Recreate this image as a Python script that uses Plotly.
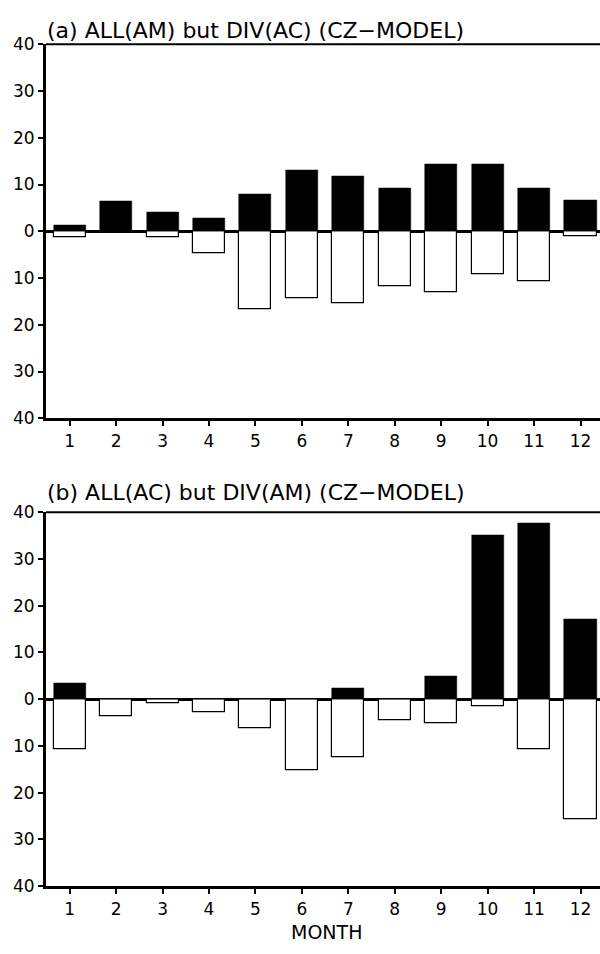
import plotly.graph_objects as go

months = list(range(1, 13))
tick_labels = [str(m) for m in months]

# Panel (a): ALL(AM) but DIV(AC)
a_pos = [1.25, 6.5, 4.0, 2.7, 7.9, 13.1, 11.7, 9.2, 14.4, 14.4, 9.2, 6.7]
a_neg = [1.25, 0.0, 1.25, 4.7, 16.7, 14.3, 15.3, 11.8, 13.0, 9.3, 10.6, 1.0]

# Panel (b): ALL(AC) but DIV(AM)
b_pos = [3.5, 0.0, 0.0, 0.0, 0.0, 0.0, 2.45, 0.0, 4.9, 35.1, 37.6, 17.1]
b_neg = [10.8, 3.6, 0.9, 2.7, 6.2, 15.2, 12.5, 4.4, 5.2, 1.6, 10.6, 25.7]

titles = ["(a) ALL(AM) but DIV(AC) (CZ\u2212MODEL)", "(b) ALL(AC) but DIV(AM) (CZ\u2212MODEL)"]
xlabel = "MONTH"
ytick_vals = [-40, -30, -20, -10, 0, 10, 20, 30, 40]
ytick_text = [str(abs(v)) for v in ytick_vals]

H = 954.0
FONT = "DejaVu Sans"

fig = go.Figure()

panels = [(a_pos, a_neg, "x", "y"), (b_pos, b_neg, "x2", "y2")]
for pos, neg, xa, ya in panels:
    fig.add_trace(go.Bar(x=months, y=[-v for v in neg], width=0.69,
                         marker=dict(color="white", line=dict(color="black", width=1.2)),
                         xaxis=xa, yaxis=ya, showlegend=False))
    fig.add_trace(go.Bar(x=months, y=pos, width=0.69,
                         marker=dict(color="black", line=dict(color="black", width=0.5)),
                         xaxis=xa, yaxis=ya, showlegend=False))

def px2dom(top, bottom):
    return [1 - bottom / H, 1 - top / H]

xcommon = dict(range=[0.49, 12.42], tickvals=months, ticktext=tick_labels,
               showline=True, linecolor="black", linewidth=3,
               ticks="outside", ticklen=5, tickwidth=1.5, tickcolor="black",
               showgrid=False, zeroline=False,
               tickfont=dict(family=FONT, size=17, color="black"))
ycommon = dict(range=[-40, 40], tickvals=ytick_vals, ticktext=ytick_text,
               showline=True, linecolor="black", linewidth=3,
               ticks="outside", ticklen=5, tickwidth=1.5, tickcolor="black",
               showgrid=False, zeroline=True, zerolinecolor="black", zerolinewidth=2.5,
               tickfont=dict(family=FONT, size=17, color="black"))

fig.update_layout(
    width=600, height=954,
    margin=dict(l=46, r=0, t=0, b=0),
    paper_bgcolor="white", plot_bgcolor="white",
    barmode="overlay",
    bargap=0,
    xaxis=dict(domain=[0, 1], anchor="y", **xcommon),
    yaxis=dict(domain=px2dom(35, 417), anchor="x", **ycommon),
    xaxis2=dict(domain=[0, 1], anchor="y2", **xcommon),
    yaxis2=dict(domain=px2dom(513, 895), anchor="x2", **ycommon),
    font=dict(family=FONT, color="black"),
)

# top frame lines (thinner than the axes)
for ya in ["y", "y2"]:
    fig.add_shape(type="line", xref="paper", yref=f"{ya} domain",
                  x0=0, x1=1, y0=1, y1=1, line=dict(color="black", width=2))

fig.add_annotation(text=titles[0], xref="paper", yref="paper", x=-0.002, y=1 - 20.5 / H,
                   xanchor="left", yanchor="middle", showarrow=False,
                   font=dict(family=FONT, size=22, color="black"))
fig.add_annotation(text=titles[1], xref="paper", yref="paper", x=-0.002, y=1 - 493 / H,
                   xanchor="left", yanchor="middle", showarrow=False,
                   font=dict(family=FONT, size=22, color="black"))
fig.add_annotation(text=xlabel, xref="paper", yref="paper", x=(326 - 46) / 554, y=1 - 942 / H,
                   xanchor="center", yanchor="middle", showarrow=False,
                   font=dict(family=FONT, size=19, color="black"))

fig.write_html("out.html")
